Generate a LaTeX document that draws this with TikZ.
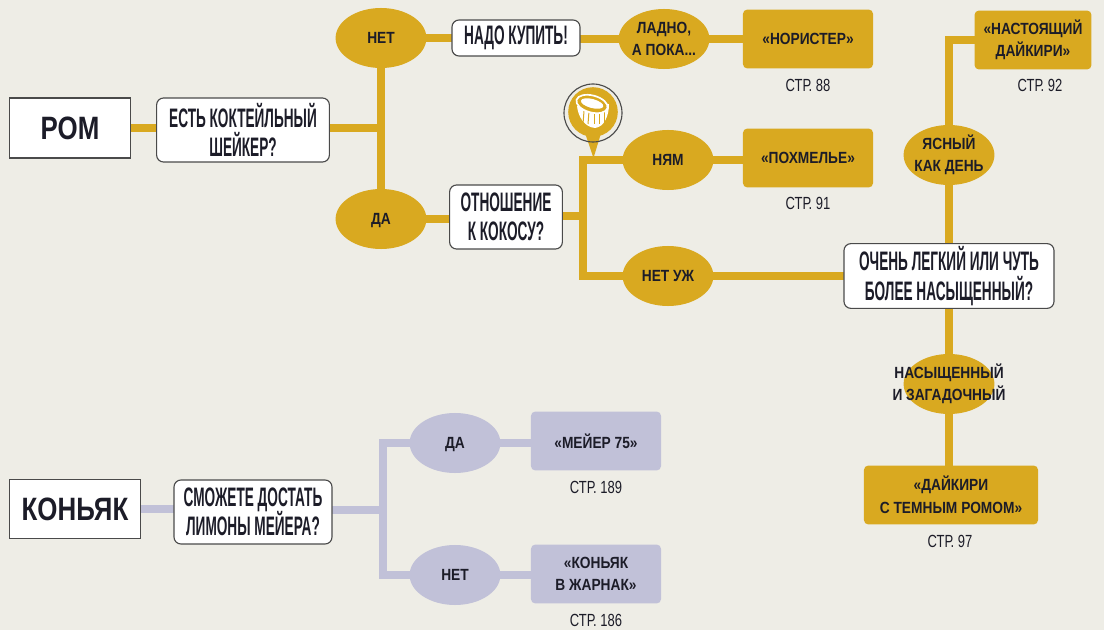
\documentclass[tikz,border=0pt]{standalone}
\usepackage{fontspec}
\setmainfont{Liberation Sans}
\newfontfamily\qfont[FakeStretch=0.51]{Liberation Sans}
\newfontfamily\lfont[FakeStretch=0.85]{Liberation Sans}
\newfontfamily\pfont[FakeStretch=0.74]{Liberation Sans}
\newfontfamily\sfont[FakeStretch=0.8]{Liberation Sans}
\usetikzlibrary{shapes.geometric,backgrounds}
\definecolor{paper}{HTML}{EEEDE6}
\definecolor{gold}{HTML}{D9A920}
\definecolor{lilac}{HTML}{C1C1D8}
\definecolor{ink}{HTML}{1C1C28}
\definecolor{edge}{HTML}{4A4A4A}
\newcommand{\nodrop}[1]{\raisebox{0pt}[\height][0pt]{#1}}
\tikzset{
	spirit/.style={draw=edge, fill=white, line width=0.8pt, text=ink, font=\sfont\bfseries\fontsize{23}{26}\selectfont},
	question/.style={draw=edge, fill=white, line width=0.8pt, rounded corners=5pt, text=ink, align=center, inner sep=0pt, font=\qfont\bfseries\fontsize{19}{21}\selectfont},
	choice/.style={ellipse, inner sep=0pt, minimum width=2.27cm, minimum height=1.5cm, text=ink, align=center, font=\lfont\bfseries\fontsize{11.5}{16}\selectfont},
	drink/.style={rounded corners=3pt, inner sep=0pt, minimum width=3.25cm, minimum height=1.47cm, text=ink, align=center, font=\lfont\bfseries\fontsize{11.5}{16}\selectfont},
	pageref/.style={text=ink, font=\pfont\fontsize{12.5}{14}\selectfont},
	goldline/.style={draw=gold, line width=0.2cm},
	lilacline/.style={draw=lilac, line width=0.18cm},
}
\begin{document}
\begin{tikzpicture}[x=0.025cm, y=-0.025cm]
	\useasboundingbox (0, 0) rectangle (1104, 630);

	% rum
	\node[spirit, minimum width=3.02cm, minimum height=1.5cm] (rom) at (70, 128) {РОМ};
	\node[question, minimum width=4.32cm, minimum height=1.6cm] (shaker) at (243, 130) {ЕСТЬ КОКТЕЙЛЬНЫЙ\\ШЕЙКЕР?};
	\node[choice, fill=gold] (no) at (381, 38) {НЕТ};
	\node[choice, fill=gold] (yes) at (381, 219) {\nodrop{ДА}};
	\node[question, minimum width=3.2cm, minimum height=0.9cm] (buy) at (516, 38) {НАДО КУПИТЬ!};
	\node[choice, fill=gold] (okay) at (664, 39) {\makebox[0pt]{ЛАДНО,}\\\makebox[0pt]{А ПОКА...}};
	\node[drink, fill=gold] (norister) at (808, 39) {«НОРИСТЕР»};
	\node[pageref] (page88) at (808, 85) {СТР. 88};
	\node[question, minimum width=2.82cm, minimum height=1.6cm] (coconut) at (506, 217) {ОТНОШЕНИЕ\\К КОКОСУ?};
	\node[choice, fill=gold] (yum) at (668, 160) {НЯМ};
	\node[choice, fill=gold] (nope) at (668, 276) {НЕТ УЖ};
	\node[drink, fill=gold] (hangover) at (808, 158) {«ПОХМЕЛЬЕ»};
	\node[pageref] (page91) at (808, 203) {СТР. 91};
	\node[question, minimum width=5.25cm, minimum height=1.62cm] (light) at (949, 276) {ОЧЕНЬ ЛЕГКИЙ ИЛИ ЧУТЬ\\БОЛЕЕ НАСЫЩЕННЫЙ?};
	\node[choice, fill=gold] (clear) at (949, 155) {\makebox[0pt]{ЯСНЫЙ}\\\makebox[0pt]{КАК ДЕНЬ}};
	\node[drink, fill=gold, minimum width=2.92cm] (daiquiri) at (1033, 40) {«НАСТОЯЩИЙ\\ДАЙКИРИ»};
	\node[pageref] (page92) at (1040, 85) {СТР. 92};
	\node[choice, fill=gold] (rich) at (949, 384) {\makebox[0pt]{НАСЫЩЕННЫЙ}\\\makebox[0pt]{И ЗАГАДОЧНЫЙ}};
	\node[drink, fill=gold, minimum width=4.35cm] (dark) at (951, 495) {«ДАЙКИРИ\\С ТЕМНЫМ РОМОМ»};
	\node[pageref] (page97) at (950, 541) {СТР. 97};

	% coconut badge
	\node[circle, fill=gold, minimum size=1.24cm, inner sep=0pt] (badge) at (593, 112) {};
	\draw[edge, line width=0.8pt] (593, 113) circle (29);
	\fill[white] (577, 106) .. controls (578, 116) and (584, 127) .. (595, 128) .. controls (604, 127) and (609, 116) .. (609, 104) -- cycle;
	\foreach \dx/\tx in {-9/-11, -4/-6, 1/0, 6/5, 11/10}
		\draw[gold, line width=0.7pt] (593+\dx, 111) -- (594+\tx, 124);
	\draw[white, fill=gold, line width=1.2pt, rotate around={-15:(592, 104)}] (592, 104) ellipse (16 and 8.5);
	\fill[white, rotate around={-15:(592, 104)}] (592, 103.5) ellipse (11.5 and 4.5);

	% cognac
	\node[spirit, minimum width=3.27cm, minimum height=1.47cm] (cognac) at (75, 509) {КОНЬЯК};
	\node[question, minimum width=3.95cm, minimum height=1.6cm] (lemons) at (253, 512) {СМОЖЕТЕ ДОСТАТЬ\\ЛИМОНЫ МЕЙЕРА?};
	\node[choice, fill=lilac] (lemonyes) at (455, 443) {\nodrop{ДА}};
	\node[choice, fill=lilac] (lemonno) at (455, 575) {НЕТ};
	\node[drink, fill=lilac] (meyer) at (596, 441) {«МЕЙЕР 75»};
	\node[pageref] (page189) at (596, 487) {СТР. 189};
	\node[drink, fill=lilac] (zharnac) at (596, 574) {«КОНЬЯК\\В ЖАРНАК»};
	\node[pageref] (page186) at (596, 620) {СТР. 186};

	\coordinate (romfork) at (381, 128);
	\coordinate (cocofork) at (583, 216);
	\coordinate (lemonfork) at (383, 510);

	\begin{scope}[on background layer]
		\fill[paper] (0, 0) rectangle (1104, 630);

		\draw[goldline] (rom.center) -- (rom.center -| shaker.center);
		\draw[goldline] (shaker.center |- romfork) -- (romfork);
		\draw[goldline] (no.center) -- (yes.center);
		\draw[goldline] (no.center) -- (buy.center);
		\draw[goldline] (okay.center) -- (okay.center -| buy.center);
		\draw[goldline] (okay.center) -- (norister.center);
		\draw[goldline] (yes.center) -- (yes.center -| coconut.center);
		\draw[goldline] (coconut.center |- cocofork) -- (cocofork);
		\draw[goldline] (yum.center) -| (cocofork) |- (nope.center);
		\draw[goldline] (yum.center) -- (yum.center -| hangover.center);
		\draw[goldline] (nope.center) -- (light.center |- nope.center);
		\draw[goldline] (light.center) -- (clear.center);
		\draw[goldline] (clear.center) |- (daiquiri.center);
		\draw[goldline] (light.center) -- (rich.center);
		\draw[goldline] (rich.center) -- (rich.center |- dark.center);
		\fill[gold] (584, 130) -- (602, 130) -- (593.5, 158) -- cycle;

		\draw[lilacline] (cognac.center) -- (cognac.center -| lemons.center);
		\draw[lilacline] (lemons.center |- lemonfork) -- (lemonfork);
		\draw[lilacline] (lemonyes.center) -| (lemonfork) |- (lemonno.center);
		\draw[lilacline] (lemonyes.center) -- (lemonyes.center -| meyer.center);
		\draw[lilacline] (lemonno.center) -- (lemonno.center -| zharnac.center);
	\end{scope}
\end{tikzpicture}
\end{document}
